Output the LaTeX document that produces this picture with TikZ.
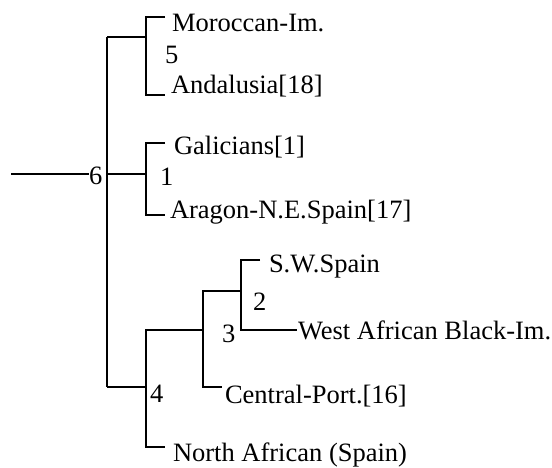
\documentclass[tikz,border=0pt]{standalone}
\usepackage{fontspec}
\setmainfont{Liberation Serif}
\begin{document}
\begin{tikzpicture}[x=1pt,y=-1pt,
  edge/.style={line width=1.7pt, line join=miter},
  lbl/.style={anchor=base west, inner sep=0pt, outer sep=0pt, font=\fontsize{26.5}{31}\selectfont},
]
\useasboundingbox (0,0) rectangle (552,467);

% junction coordinates
\coordinate (r0) at (11,174);
\coordinate (r1) at (89,174);
\coordinate (n6) at (107,174);
\coordinate (n6t) at (107,37);
\coordinate (n6b) at (107,387);
% clade 5
\coordinate (n5c) at (146,37);
\coordinate (n5t) at (146,17);
\coordinate (n5b) at (146,95);
\coordinate (t5a) at (165,17);
\coordinate (t5b) at (165,95);
% clade 1
\coordinate (n1c) at (146,174);
\coordinate (n1t) at (146,143);
\coordinate (n1b) at (146,215);
\coordinate (t1a) at (165,143);
\coordinate (t1b) at (165,215);
% clade 4
\coordinate (n4c) at (146,387);
\coordinate (n4t) at (146,330);
\coordinate (n4b) at (146,447);
\coordinate (t4b) at (165,447);
% clade 3
\coordinate (n3c) at (203,330);
\coordinate (n3t) at (203,291);
\coordinate (n3b) at (203,387);
\coordinate (t3b) at (222,387);
% clade 2
\coordinate (n2c) at (241,291);
\coordinate (n2t) at (241,260);
\coordinate (n2b) at (241,330);
\coordinate (t2a) at (260,260);
\coordinate (t2b) at (297,330);

% labels
\node[lbl] (l6) at (89,184) {6};
\node[lbl] (mor) at (172,31) {Moroccan-Im.};
\node[lbl] (l5) at (165,63) {5};
\node[lbl] (and) at (171,93) {Andalusia[18]};
\node[lbl] (gal) at (174,154) {Galicians[1]};
\node[lbl] (l1) at (160,185) {1};
\node[lbl] (ara) at (170,218) {Aragon-N.E.Spain[17]};
\node[lbl] (sws) at (269,272) {S.W.Spain};
\node[lbl] (l2) at (253,310) {2};
\node[lbl] (waf) at (298,339) {West African Black-Im.};
\node[lbl] (l3) at (222,342) {3};
\node[lbl] (cen) at (225,403) {Central-Port.[16]};
\node[lbl] (l4) at (150,402) {4};
\node[lbl] (naf) at (173,461) {North African (Spain)};

% connectors
\draw[edge] (r0) -- (r1);
\draw[edge] (n6t) -- (n6b);
\draw[edge] (n6t) -- (n5c);
\draw[edge] (n6) -- (n1c);
\draw[edge] (n6b) -- (n4c);
\draw[edge] (t5a) -- (n5t) -- (n5b) -- (t5b);
\draw[edge] (t1a) -- (n1t) -- (n1b) -- (t1b);
\draw[edge] (n3c) -- (n4t) -- (n4b) -- (t4b);
\draw[edge] (n2c) -- (n3t) -- (n3b) -- (t3b);
\draw[edge] (t2a) -- (n2t) -- (n2b) -- (t2b);
\end{tikzpicture}
\end{document}
